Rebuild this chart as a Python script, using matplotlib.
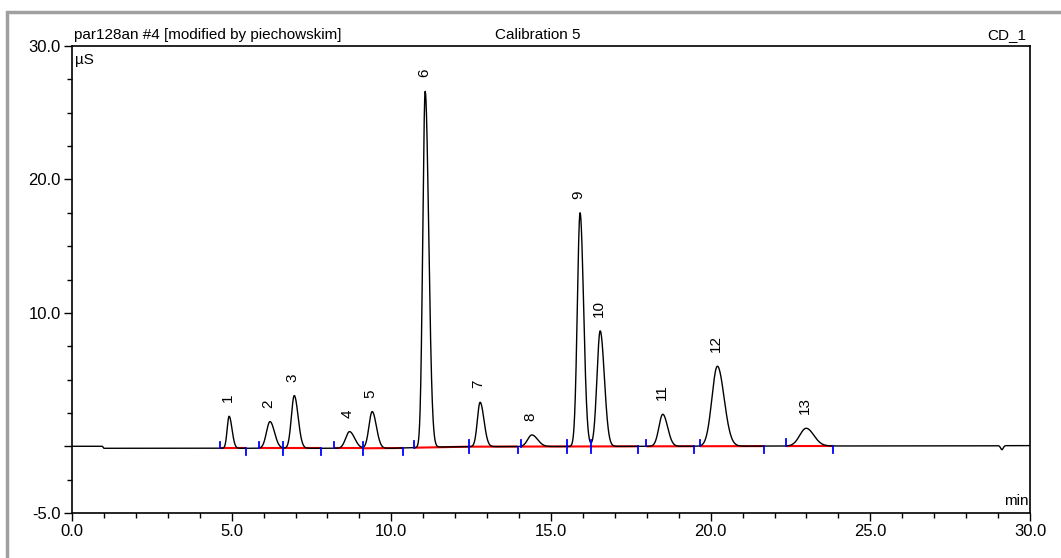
import numpy as np
import matplotlib
matplotlib.use("Agg")
import matplotlib.pyplot as plt
from matplotlib.patches import Rectangle
from matplotlib.ticker import MultipleLocator, FixedLocator, FixedFormatter

# ---- data ----
peak_ids = ["1", "2", "3", "4", "5", "6", "7", "8", "9", "10", "11", "12", "13"]
peak_rt = [4.92, 6.20, 6.96, 8.69, 9.40, 11.06, 12.78, 14.40, 15.91, 16.54, 18.50, 20.21, 22.99]
peak_apex = [2.25, 1.85, 3.80, 1.10, 2.60, 26.6, 3.30, 0.85, 17.5, 8.65, 2.40, 6.00, 1.35]
peak_sig_l = [0.06, 0.11, 0.09, 0.12, 0.10, 0.075, 0.085, 0.13, 0.085, 0.10, 0.12, 0.17, 0.20]
peak_sig_r = [0.09, 0.14, 0.12, 0.16, 0.13, 0.11, 0.12, 0.18, 0.11, 0.13, 0.15, 0.21, 0.24]
peak_start = [4.63, 5.86, 6.62, 8.21, 9.12, 10.72, 12.42, 14.05, 15.49, 16.25, 17.98, 19.67, 22.35]
peak_end = [5.45, 6.62, 7.80, 9.12, 10.36, 12.42, 13.96, 15.49, 16.25, 17.74, 19.48, 21.68, 23.84]
base_t = [0.0, 0.95, 1.0, 10.0, 12.0, 30.0]
base_v = [0.0, 0.0, -0.15, -0.15, -0.03, 0.05]
dip_rt, dip_depth, dip_sig = 29.12, -0.30, 0.04

x_major = [0, 5, 10, 15, 20, 25, 30]
x_labels = ["0.0", "5.0", "10.0", "15.0", "20.0", "25.0", "30.0"]
y_major = [-5, 0, 10, 20, 30]
y_labels = ["-5.0", "", "10.0", "20.0", "30.0"]

# ---- build trace ----
t = np.linspace(0, 30, 6001)
def baseline(x):
    return np.interp(x, base_t, base_v)

sig = baseline(t)
for rt, ap, sl, sr in zip(peak_rt, peak_apex, peak_sig_l, peak_sig_r):
    amp = ap - baseline(rt)
    s = np.where(t < rt, sl, sr)
    sig = sig + amp * np.exp(-0.5 * ((t - rt) / s) ** 2)
sig = sig + dip_depth * np.exp(-0.5 * ((t - dip_rt) / dip_sig) ** 2)

# ---- figure ----
W, H = 1061, 558
fig = plt.figure(figsize=(W / 100, H / 100), dpi=100)
ax = fig.add_axes([72 / W, 1 - 513 / H, (1030 - 72) / W, (513 - 46) / H])

tick_font = ["Liberation Sans Narrow", "Liberation Sans", "DejaVu Sans"]
txt_font = ["Liberation Sans", "DejaVu Sans"]

# red baseline segments
for s0, e0 in zip(peak_start, peak_end):
    ax.plot([s0, e0], [baseline(s0), baseline(e0)], color="#ff0000", lw=1.5, zorder=2,
            solid_capstyle="butt")

ax.plot(t, sig, color="black", lw=1.0, zorder=3)

# blue integration marks
tick_h = 0.5
for s0 in peak_start:
    b = baseline(s0)
    ax.plot([s0, s0], [b, b + tick_h], color="#0000ff", lw=1.3, zorder=4)
for e0 in peak_end:
    b = baseline(e0)
    ax.plot([e0, e0], [b - tick_h, b], color="#0000ff", lw=1.3, zorder=4)

# peak labels
for pid, rt, ap in zip(peak_ids, peak_rt, peak_apex):
    ax.annotate(pid, (rt, ap), xytext=(-1, 10), textcoords="offset points",
                rotation=90, ha="center", va="bottom", fontsize=11, family=txt_font)

ax.set_xlim(0, 30)
ax.set_ylim(-5, 30)
ax.xaxis.set_major_locator(FixedLocator(x_major))
ax.xaxis.set_major_formatter(FixedFormatter(x_labels))
ax.xaxis.set_minor_locator(MultipleLocator(1))
ax.yaxis.set_major_locator(FixedLocator(y_major))
ax.yaxis.set_major_formatter(FixedFormatter(y_labels))
ax.yaxis.set_minor_locator(MultipleLocator(2.5))
ax.tick_params(which="major", direction="out", length=6, width=1, colors="black",
               labelsize=12, pad=2)
ax.tick_params(which="minor", direction="out", length=3.5, width=1, colors="black")
for lab in ax.get_xticklabels() + ax.get_yticklabels():
    lab.set_family(tick_font)
for sp in ax.spines.values():
    sp.set_linewidth(1.2)
    sp.set_color("black")

ax.text(0.003, 0.985, "µS", transform=ax.transAxes, ha="left", va="top",
        fontsize=11, family=txt_font)
ax.text(0.998, 0.01, "min", transform=ax.transAxes, ha="right", va="bottom",
        fontsize=11, family=txt_font)

fig.text(74 / W, 1 - 39 / H, "par128an #4 [modified by piechowskim]", ha="left",
         va="baseline", fontsize=11, family=txt_font)
fig.text(495 / W, 1 - 39 / H, "Calibration 5", ha="left", va="baseline",
         fontsize=11, family=txt_font)
fig.text(1026 / W, 1 - 39 / H, "CD_1", ha="right", va="baseline",
         fontsize=11, family=txt_font)

fig.add_artist(Rectangle((7 / W, -0.2), 1.2, 1.2 - 12 / H + 0.0, transform=fig.transFigure,
                         fill=False, ec="#a0a0a0", lw=2.5, clip_on=False))

fig.savefig("out.png", dpi=100)
